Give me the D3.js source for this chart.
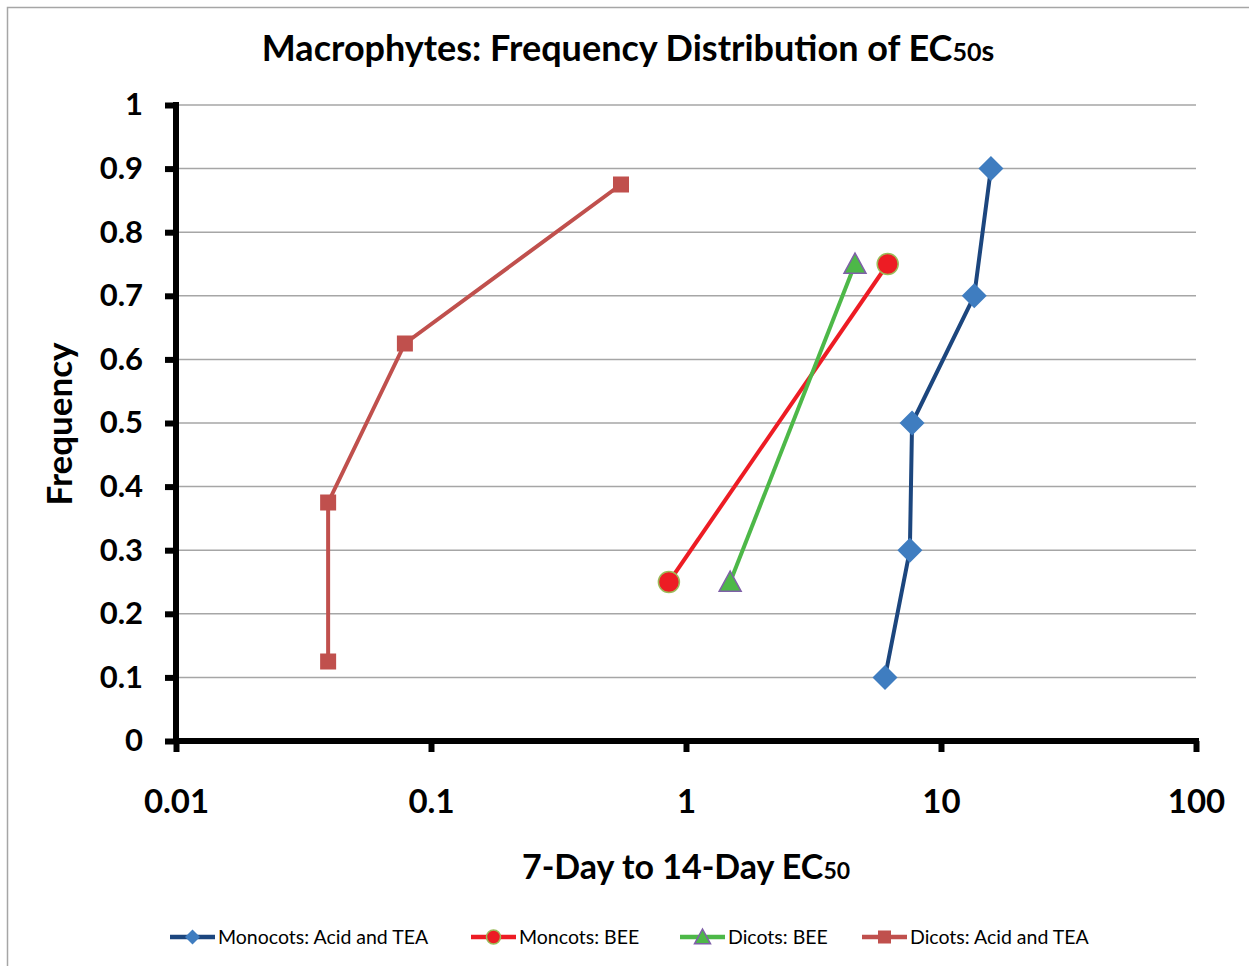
<!DOCTYPE html>
<html>
<head>
<meta charset="utf-8">
<script src="https://cdn.jsdelivr.net/npm/d3@7"></script>
<style>
  html, body { margin: 0; padding: 0; background: #fff; }
  svg { display: block; font-family: Lato, "Open Sans", sans-serif; }
</style>
</head>
<body>
<svg id="chart" width="1249" height="966"></svg>
<script>
// ---------- data ----------
const seriesNames = ["Monocots: Acid and TEA", "Moncots: BEE", "Dicots: BEE", "Dicots: Acid and TEA"];
const monocotsAcidX = [6.03, 7.55, 7.7, 13.5, 15.7];
const monocotsAcidY = [0.1, 0.3, 0.5, 0.7, 0.9];
const monocotsBeeX = [0.857, 6.18];
const monocotsBeeY = [0.25, 0.75];
const dicotsBeeX = [1.49, 4.6];
const dicotsBeeY = [0.25, 0.75];
const dicotsAcidX = [0.0395, 0.0395, 0.079, 0.556];
const dicotsAcidY = [0.125, 0.375, 0.625, 0.875];
const xTicks = [0.01, 0.1, 1, 10, 100];
const xTickLabels = ["0.01", "0.1", "1", "10", "100"];
const yTicks = [0, 0.1, 0.2, 0.3, 0.4, 0.5, 0.6, 0.7, 0.8, 0.9, 1];
const yTickLabels = ["0", "0.1", "0.2", "0.3", "0.4", "0.5", "0.6", "0.7", "0.8", "0.9", "1"];

const series = [
  { name: seriesNames[0], xs: monocotsAcidX, ys: monocotsAcidY, line: "#1c467e", fill: "#3f7dc0", stroke: "none", marker: "diamond" },
  { name: seriesNames[1], xs: monocotsBeeX, ys: monocotsBeeY, line: "#ed1c24", fill: "#ed1c24", stroke: "#9bbb59", marker: "circle" },
  { name: seriesNames[2], xs: dicotsBeeX, ys: dicotsBeeY, line: "#4db848", fill: "#4db848", stroke: "#7f60a8", marker: "triangle" },
  { name: seriesNames[3], xs: dicotsAcidX, ys: dicotsAcidY, line: "#c0504d", fill: "#c0504d", stroke: "none", marker: "square" }
];

// ---------- layout ----------
const svg = d3.select("#chart");
const x = d3.scaleLog().domain([0.01, 100]).range([176, 1196]);
const y = d3.scaleLinear().domain([0, 1]).range([741, 105]);

// outer border
svg.append("path").attr("d", "M7.5,966 L7.5,7.5 L1249,7.5")
  .attr("fill", "none").attr("stroke", "#a6a6a6").attr("stroke-width", 1.5);

// gridlines
svg.append("g").selectAll("line").data(yTicks.filter(d => d > 0)).join("line")
  .attr("x1", x(0.01)).attr("x2", x(100))
  .attr("y1", d => y(d)).attr("y2", d => y(d))
  .attr("stroke", "#a6a6a6").attr("stroke-width", 1.5);

// title
const title = svg.append("text").attr("x", 628).attr("y", 61).attr("text-anchor", "middle")
  .attr("font-size", 36).attr("font-weight", 700).attr("fill", "#000");
title.append("tspan").text("Macrophytes: Frequency Distribution of EC");
title.append("tspan").attr("font-size", 25).text("50");
title.append("tspan").attr("font-size", 29).text("s");

// axes
const xAxis = d3.axisBottom(x).tickValues(xTicks)
  .tickFormat((d, i) => xTickLabels[i]).tickSize(11).tickPadding(38).tickSizeOuter(0);
const gx = svg.append("g").attr("transform", `translate(0,${y(0)})`).call(xAxis);
gx.select(".domain").attr("stroke", "#000").attr("stroke-width", 6)
  .attr("d", `M${x(0.01) - 3},0H${x(100) + 3}`);
gx.selectAll(".tick line").attr("stroke", "#000").attr("stroke-width", 6);
gx.selectAll(".tick text").attr("font-size", 33).attr("font-weight", 700)
  .attr("fill", "#000").attr("font-family", "Lato, sans-serif");

const yAxis = d3.axisLeft(y).tickValues(yTicks)
  .tickFormat((d, i) => yTickLabels[i]).tickSize(11).tickPadding(22).tickSizeOuter(0);
const gy = svg.append("g").attr("transform", `translate(${x(0.01)},0)`).call(yAxis);
gy.select(".domain").attr("stroke", "#000").attr("stroke-width", 6)
  .attr("d", `M0,${y(0) + 3}V${y(1) - 3}`);
gy.selectAll(".tick line").attr("stroke", "#000").attr("stroke-width", 6);
gy.selectAll(".tick text").attr("font-size", 31).attr("font-weight", 700)
  .attr("fill", "#000").attr("font-family", "Lato, sans-serif");

// axis titles
const xt = svg.append("text").attr("x", 686).attr("y", 879).attr("text-anchor", "middle")
  .attr("font-size", 34).attr("font-weight", 700).attr("fill", "#000");
xt.append("tspan").text("7-Day to 14-Day EC");
xt.append("tspan").attr("font-size", 23).text("50");

svg.append("text").attr("transform", "translate(72,424) rotate(-90)").attr("text-anchor", "middle")
  .attr("font-size", 35).attr("font-weight", 700).attr("fill", "#000").text("Frequency");

// markers
function drawMarker(g, type, cx, cy, s, size) {
  let el;
  if (type === "diamond") {
    el = g.append("path").attr("d", `M${cx},${cy - size}L${cx + size},${cy}L${cx},${cy + size}L${cx - size},${cy}Z`);
  } else if (type === "circle") {
    el = g.append("circle").attr("cx", cx).attr("cy", cy).attr("r", size);
  } else if (type === "triangle") {
    el = g.append("path").attr("d", `M${cx},${cy - size}L${cx + size},${cy + size * 0.85}L${cx - size},${cy + size * 0.85}Z`);
  } else {
    el = g.append("rect").attr("x", cx - size).attr("y", cy - size).attr("width", size * 2).attr("height", size * 2);
  }
  el.attr("fill", s.fill).attr("stroke", s.stroke).attr("stroke-width", s.stroke === "none" ? 0 : 1.5);
}
const markerSize = { diamond: 12.5, circle: 10.5, triangle: 11, square: 8 };

const line = d3.line().x(d => x(d[0])).y(d => y(d[1]));
series.forEach(s => {
  const pts = s.xs.map((v, i) => [v, s.ys[i]]);
  const g = svg.append("g");
  g.append("path").datum(pts).attr("d", line).attr("fill", "none")
    .attr("stroke", s.line).attr("stroke-width", 4).attr("stroke-linejoin", "round");
  pts.forEach(p => drawMarker(g, s.marker, x(p[0]), y(p[1]), s, markerSize[s.marker]));
});

// legend
const legendX = [170, 471, 680, 862];
const legendY = 937;
series.forEach((s, i) => {
  const g = svg.append("g");
  g.append("line").attr("x1", legendX[i]).attr("x2", legendX[i] + 45)
    .attr("y1", legendY).attr("y2", legendY).attr("stroke", s.line).attr("stroke-width", 4.5);
  const legSize = { diamond: 7.5, circle: 7, triangle: 8, square: 6.5 };
  drawMarker(g, s.marker, legendX[i] + 22.5, legendY, s, legSize[s.marker]);
  g.append("text").attr("x", legendX[i] + 48).attr("y", legendY).attr("dy", "0.35em")
    .attr("font-size", 19.5).attr("fill", "#000").text(s.name);
});
</script>
</body>
</html>
